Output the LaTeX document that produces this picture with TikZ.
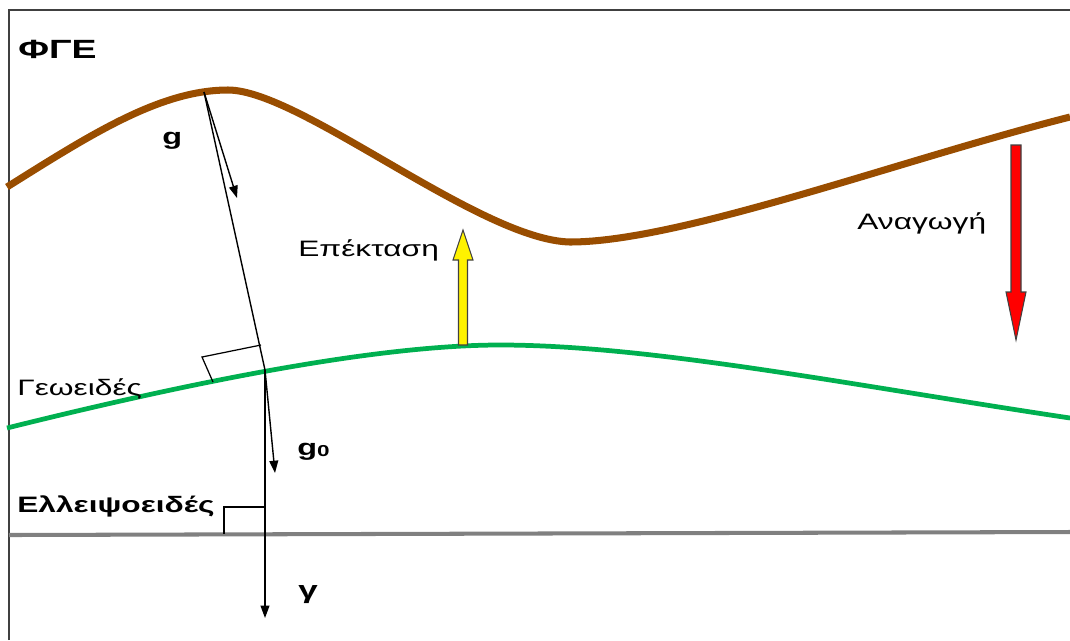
\documentclass[tikz,border=0pt]{standalone}
\usepackage{fontspec}
\setmainfont{Liberation Sans}
\usepackage{tikz}
\usetikzlibrary{arrows.meta,calc,positioning}
\definecolor{fgeBrown}{RGB}{153,77,0}
\definecolor{geoidGreen}{RGB}{0,176,80}
\definecolor{ellGray}{RGB}{128,128,128}
\definecolor{frameInk}{RGB}{64,64,64}
\newcommand{\widelbl}[1]{\scalebox{1.42}[1]{#1}}

\begin{document}
\begin{tikzpicture}[
    x=0.02cm, y=-0.02cm,
    font=\fontsize{12.7}{15}\selectfont,
    >={Triangle[length=7pt,width=5pt]},
    vec/.style={->, line width=0.8pt, draw=black},
    plumb/.style={line width=0.8pt, draw=black},
    corner/.style={line width=0.7pt, draw=black},
    lbl/.style={inner sep=0pt, anchor=base west},
    blockarrow/.style={draw=black!75, line width=0.6pt, line join=miter}
  ]
  \useasboundingbox (0,0) rectangle (1070,640);

  % frame
  \draw[frameInk, line width=1.1pt] (9,640) -- (9,10) -- (1070,10);

  % surfaces
  \draw[fgeBrown, line width=4pt]
    (7,187) .. controls (90,135) and (160,90) .. (228,90)
    .. controls (300,90) and (480,240) .. (570,242)
    .. controls (680,242) and (900,160) .. (1070,117);
  \draw[geoidGreen, line width=2.7pt]
    (7,428) .. controls (200,380) and (380,345) .. (500,345)
    .. controls (650,345) and (850,385) .. (1070,418);
  \draw[ellGray, line width=2.3pt] (9,535) -- (1070,532);

  \coordinate (top) at (204,92);
  \coordinate (foot) at (265,370);
  \coordinate (gTip) at (237,198);
  \coordinate (gzeroTip) at (275,473);
  \coordinate (gammaTip) at (265,618);

  % plumb line and gravity vectors
  \draw[plumb] (top) -- (foot);
  \draw[vec] (top) -- (gTip);
  \draw[vec] (foot) -- (gzeroTip);
  \draw[vec] (foot) -- (gammaTip);

  % right angles
  \draw[corner] (261,345) -- (202,357) -- (213,382);
  \draw[corner] (265,507) -- (224,507) -- (224,534);

  % block arrows
  \draw[blockarrow, fill=yellow] (458.5,345) -- (458.5,260) -- (453,260)
    -- (463,230) -- (473,260) -- (467.5,260) -- (467.5,345) -- cycle;
  \draw[blockarrow, fill=red] (1011,145) -- (1021,145) -- (1021,292)
    -- (1026,292) -- (1016,340) -- (1006,292) -- (1011,292) -- cycle;

  % labels
  \node[lbl, font=\fontsize{15}{17}\selectfont\bfseries] (fgeLabel) at (18,58) {\widelbl{ΦΓΕ}};
  \node[lbl, font=\fontsize{13}{15}\selectfont\bfseries] (gLabel) at (162,144) {\widelbl{g}};
  \node[lbl] (extLabel) at (298,256) {\widelbl{Επέκταση}};
  \node[lbl] (redLabel) at (857,229) {\widelbl{Αναγωγή}};
  \node[lbl] (geoidLabel) at (17,395) {\widelbl{Γεωειδές}};
  \node[lbl, font=\fontsize{13}{15}\selectfont\bfseries] (gzeroLabel) at (297,455)
    {\widelbl{g\raisebox{-1pt}{\fontsize{9}{9}\selectfont 0}}};
  \node[lbl, font=\fontsize{12.7}{15}\selectfont\bfseries] (ellLabel) at (17,512) {\widelbl{Ελλειψοειδές}};
  \node[lbl, font=\fontsize{14}{15}\selectfont\bfseries] (gammaLabel) at (298,598) {\widelbl{γ}};
\end{tikzpicture}
\end{document}
